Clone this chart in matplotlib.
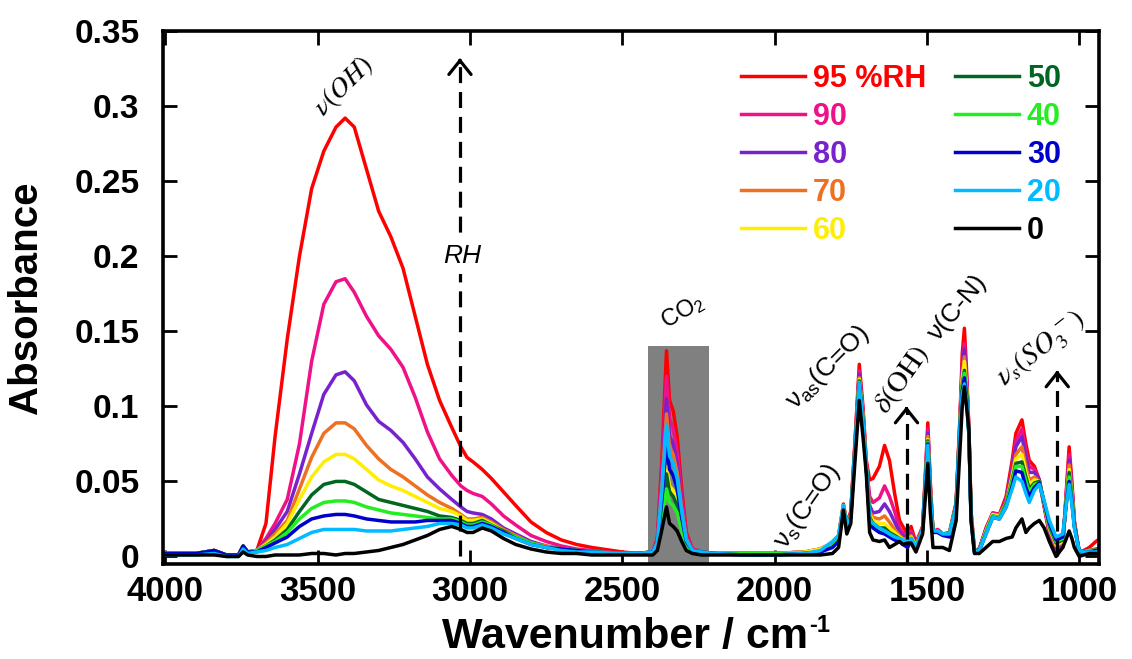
import matplotlib
matplotlib.use('Agg')
import matplotlib.pyplot as plt
import matplotlib.patches as mpatches

plt.rcParams['font.family'] = ['Liberation Sans', 'DejaVu Sans']
plt.rcParams['mathtext.fontset'] = 'custom'
plt.rcParams['mathtext.rm'] = 'Liberation Sans'
plt.rcParams['mathtext.it'] = 'Liberation Sans:italic'
plt.rcParams['mathtext.bf'] = 'Liberation Sans:bold'

# ---------------- data ----------------
wavenumber = [
    4000, 3900, 3840, 3800, 3760, 3745, 3730, 3700, 3670, 3640,
    3600, 3560, 3520, 3480, 3440, 3410, 3380, 3340, 3300, 3260,
    3220, 3180, 3140, 3100, 3060, 3030, 3010, 2990, 2960, 2930,
    2890, 2850, 2800, 2750, 2700, 2650, 2600, 2500,
    2450, 2400, 2385, 2370, 2355, 2345, 2333, 2320, 2305, 2290, 2270, 2240, 2200,
    2100, 2000, 1900, 1850, 1810, 1790, 1774, 1763, 1750, 1738,
    1722, 1710, 1699, 1688, 1677, 1656, 1639, 1623, 1606, 1590,
    1579, 1563, 1552, 1536, 1514, 1505, 1497, 1489, 1480, 1465,
    1448, 1426, 1404, 1392, 1384, 1377, 1370, 1362, 1355, 1344,
    1328, 1306, 1284, 1262, 1240, 1220, 1208, 1188, 1175, 1164,
    1147, 1131, 1115, 1098, 1076, 1054, 1042, 1033, 1024, 1016,
    1000, 985, 967, 945, 930]

rh95 = [
    .002, .002, .004, .001, .001, .007, .003, .004, .022, .080,
    .145, .200, .245, .270, .286, .292, .286, .258, .230, .213,
    .192, .160, .128, .104, .086, .073, .066, .063, .058, .052,
    .043, .034, .023, .016, .011, .008, .006, .003,
    .002, .003, .012, .065, .137, .104, .097, .080, .045, .016, .005, .003, .002,
    .002, .002, .003, .005, .009, .014, .035, .022, .030, .070,
    .128, .100, .064, .051, .052, .060, .074, .064, .042, .024,
    .020, .015, .020, .009, .020, .055, .089, .050, .016, .018,
    .015, .016, .036, .090, .135, .152, .125, .085, .030, .004,
    .005, .019, .029, .028, .040, .064, .082, .091, .075, .064,
    .060, .051, .033, .015, .004, .006, .045, .073, .050, .024,
    .002, .004, .006, .010, .012]

rh90 = [
    .002, .002, .004, .001, .001, .007, .003, .004, .012, .022,
    .038, .075, .130, .168, .183, .185, .176, .160, .147, .138,
    .126, .106, .083, .065, .054, .047, .044, .042, .040, .035,
    .027, .021, .014, .010, .007, .005, .004, .002,
    .002, .003, .011, .058, .120, .092, .085, .070, .040, .014, .005, .003, .002,
    .002, .002, .003, .005, .009, .013, .034, .022, .029, .069,
    .124, .097, .062, .040, .036, .039, .047, .040, .030, .019,
    .016, .013, .017, .008, .019, .053, .085, .048, .016, .018,
    .015, .015, .035, .089, .128, .142, .120, .084, .029, .004,
    .005, .018, .029, .028, .038, .060, .077, .085, .070, .060,
    .058, .051, .034, .016, .005, .007, .043, .068, .047, .023,
    .003, .003, .004, .005, .006]

rh80 = [
    .002, .002, .004, .001, .001, .007, .003, .004, .010, .018,
    .030, .055, .082, .108, .121, .123, .117, .101, .090, .084,
    .076, .065, .053, .045, .038, .033, .030, .029, .028, .025,
    .019, .015, .010, .007, .005, .004, .003, .002,
    .002, .003, .010, .052, .105, .080, .075, .062, .035, .013, .004, .003, .002,
    .002, .002, .003, .004, .008, .013, .034, .021, .028, .068,
    .121, .095, .061, .034, .029, .030, .035, .030, .023, .016,
    .014, .012, .015, .007, .019, .052, .082, .046, .017, .017,
    .015, .015, .035, .088, .124, .138, .117, .083, .028, .004,
    .005, .018, .028, .027, .037, .058, .073, .080, .066, .056,
    .056, .051, .034, .017, .006, .008, .041, .064, .045, .022,
    .003, .003, .004, .004, .004]

rh70 = [
    .002, .002, .004, .001, .001, .007, .003, .004, .009, .015,
    .024, .045, .066, .082, .089, .089, .085, .074, .065, .058,
    .053, .047, .041, .036, .032, .028, .025, .025, .026, .023,
    .018, .014, .009, .007, .005, .004, .003, .002,
    .002, .003, .009, .047, .095, .073, .068, .056, .032, .012, .004, .003, .002,
    .002, .002, .002, .004, .008, .012, .034, .021, .028, .067,
    .119, .094, .060, .030, .026, .025, .027, .023, .018, .014,
    .012, .011, .014, .007, .019, .051, .080, .045, .017, .017,
    .015, .015, .034, .087, .120, .133, .114, .083, .027, .004,
    .004, .017, .028, .027, .036, .055, .068, .073, .060, .051,
    .053, .050, .035, .018, .007, .009, .040, .061, .043, .022,
    .003, .003, .004, .004, .004]

rh60 = [
    .002, .002, .004, .001, .001, .007, .003, .004, .008, .013,
    .022, .038, .053, .063, .068, .068, .065, .058, .051, .047,
    .044, .040, .036, .032, .030, .027, .024, .024, .025, .022,
    .017, .013, .009, .006, .005, .004, .003, .002,
    .002, .003, .007, .031, .060, .047, .044, .037, .022, .009, .004, .003, .002,
    .002, .002, .003, .005, .009, .013, .034, .021, .027, .066,
    .118, .093, .060, .028, .024, .022, .022, .019, .016, .013,
    .011, .010, .013, .007, .018, .050, .078, .044, .017, .017,
    .015, .015, .034, .087, .118, .130, .112, .082, .027, .004,
    .004, .017, .028, .027, .035, .053, .065, .068, .056, .048,
    .051, .050, .035, .019, .008, .010, .039, .058, .041, .021,
    .003, .003, .004, .004, .004]

rh50 = [
    .002, .002, .004, .001, .001, .007, .003, .004, .007, .011,
    .018, .030, .041, .048, .050, .050, .048, .043, .038, .036,
    .034, .032, .030, .027, .026, .024, .022, .022, .024, .021,
    .017, .013, .009, .006, .005, .004, .003, .002,
    .002, .003, .007, .029, .055, .043, .040, .034, .020, .008, .004, .003, .002,
    .002, .002, .002, .003, .007, .011, .033, .020, .027, .066,
    .117, .092, .059, .026, .022, .019, .019, .016, .014, .012,
    .010, .010, .012, .006, .018, .050, .077, .043, .017, .017,
    .015, .015, .034, .086, .114, .124, .110, .082, .026, .004,
    .004, .016, .027, .026, .035, .051, .062, .063, .053, .045,
    .049, .050, .036, .020, .009, .011, .038, .056, .040, .021,
    .003, .003, .004, .004, .004]

rh40 = [
    .002, .002, .004, .001, .001, .007, .003, .004, .007, .010,
    .016, .025, .032, .036, .037, .037, .036, .033, .031, .029,
    .028, .027, .026, .025, .025, .023, .021, .021, .023, .021,
    .016, .013, .009, .006, .005, .004, .003, .002,
    .002, .003, .006, .024, .045, .036, .034, .029, .017, .007, .003, .002, .002,
    .002, .002, .002, .003, .007, .011, .033, .020, .026, .065,
    .116, .091, .059, .025, .021, .018, .017, .015, .013, .011,
    .010, .009, .012, .006, .018, .049, .076, .042, .017, .016,
    .015, .015, .033, .086, .112, .122, .109, .081, .026, .004,
    .004, .016, .027, .026, .034, .050, .060, .060, .050, .043,
    .048, .049, .036, .021, .010, .012, .037, .053, .038, .020,
    .004, .003, .004, .004, .004]

rh30 = [
    .002, .002, .004, .001, .001, .007, .003, .003, .006, .009,
    .013, .020, .025, .027, .028, .028, .027, .025, .024, .023,
    .023, .023, .024, .024, .024, .022, .020, .020, .022, .020,
    .016, .012, .008, .006, .005, .004, .003, .002,
    .002, .003, .008, .038, .075, .058, .054, .045, .026, .010, .004, .003, .002,
    .001, .001, .002, .003, .006, .010, .032, .019, .026, .065,
    .115, .090, .058, .023, .019, .016, .015, .013, .011, .010,
    .008, .006, .011, .005, .018, .048, .075, .041, .016, .016,
    .014, .013, .033, .085, .110, .119, .107, .081, .025, .003,
    .004, .015, .026, .025, .033, .047, .057, .056, .046, .040,
    .046, .049, .036, .022, .011, .013, .036, .050, .036, .020,
    .004, .003, .003, .004, .004]

rh20 = [
    .001, .001, .002, .000, .000, .005, .002, .003, .004, .006,
    .008, .012, .016, .018, .018, .018, .018, .017, .017, .017,
    .018, .019, .020, .022, .022, .021, .019, .019, .021, .019,
    .015, .012, .008, .006, .004, .003, .003, .002,
    .002, .003, .009, .044, .088, .067, .062, .052, .030, .011, .004, .003, .002,
    .001, .001, .002, .004, .010, .014, .034, .020, .026, .065,
    .115, .090, .060, .024, .022, .019, .017, .015, .013, .012,
    .011, .010, .012, .006, .018, .048, .074, .040, .017, .017,
    .015, .015, .033, .085, .108, .115, .105, .080, .024, .003,
    .004, .015, .026, .025, .033, .045, .053, .050, .042, .036,
    .044, .048, .037, .024, .013, .015, .035, .048, .035, .019,
    .004, .003, .003, .003, .004]

rh0 = [
    .001, .001, .001, .000, .000, .003, .001, .000, .000, .001,
    .001, .001, .002, .002, .001, .002, .002, .003, .004, .006,
    .008, .011, .014, .018, .020, .018, .016, .016, .019, .017,
    .012, .008, .005, .003, .002, .002, .001, .001,
    .001, .001, .004, .018, .033, .022, .020, .017, .010, .004, .002, .001, .001,
    .001, .001, .001, .001, .002, .006, .031, .015, .022, .058,
    .104, .080, .055, .016, .011, .010, .011, .006, .008, .010,
    .008, .009, .009, .003, .015, .040, .062, .030, .006, .006,
    .006, .004, .024, .069, .100, .113, .100, .084, .024, .002,
    .002, .006, .010, .010, .012, .013, .019, .025, .016, .019,
    .022, .024, .019, .010, .000, .006, .012, .017, .012, .006,
    .000, .001, .002, .002, .002]

series = [rh95, rh90, rh80, rh70, rh60, rh50, rh40, rh30, rh20, rh0]
labels = ['95 %RH', '90', '80', '70', '60', '50', '40', '30', '20', '0']
colors = ['#ff0000', '#ee1188', '#7722cc', '#ee7020', '#ffee00',
          '#006622', '#22ee22', '#0000cc', '#00bbff', '#000000']

x_ticks = [4000, 3500, 3000, 2500, 2000, 1500, 1000]
y_ticks = [0, 0.05, 0.1, 0.15, 0.2, 0.25, 0.3, 0.35]
y_tick_labels = ['0', '0.05', '0.1', '0.15', '0.2', '0.25', '0.3', '0.35']

# CO2 shaded band (wavenumber range, top absorbance)
co2_band = (2215, 2415, 0.140)
# dashed arrows: (wavenumber, start, tip)
arrows = [(3033, 0.0, 0.332), (1567, -0.005, 0.100), (1072, 0.0, 0.124)]

# ---------------- plot ----------------
fig = plt.figure(figsize=(11.32, 6.59), dpi=100)
ax = fig.add_axes([163 / 1132, 1 - 564 / 659, 936 / 1132, 533 / 659])

ax.add_patch(mpatches.Rectangle((co2_band[0], -0.005), co2_band[1] - co2_band[0],
                                co2_band[2] + 0.005, facecolor='#808080',
                                edgecolor='none', zorder=1))

for vals, lab, c in zip(series, labels, colors):
    ax.plot(wavenumber, vals, color=c, lw=2.5, label=lab, zorder=2,
            solid_joinstyle='round')

for x, y0, y1 in arrows:
    ax.plot([x, x], [y0, y1 - 0.002], color='black', lw=2.3,
            linestyle=(0, (5.0, 2.8)), zorder=3)
    ax.annotate('', xy=(x, y1), xytext=(x, y1 - 0.003),
                arrowprops=dict(arrowstyle='->,head_length=0.5,head_width=0.4',
                                lw=2.3, color='black', mutation_scale=20,
                                shrinkA=0, shrinkB=0), zorder=4)

# annotations
ax.text(3416, 0.313, r'$\nu(OH)$', rotation=45, ha='center', va='center',
        fontsize=20, math_fontfamily='stix')
ax.text(3026, 0.200, 'RH', style='italic', fontsize=19, ha='center', va='center',
        zorder=5, bbox=dict(facecolor='white', edgecolor='none', pad=4))
ax.text(2302, 0.163, 'CO$_2$', rotation=30, ha='center', va='center', fontsize=17)
ax.text(1892, 0.033, r'ν$_\mathrm{s}$(C=O)', rotation=55, ha='center', va='center',
        fontsize=19)
ax.text(1826, 0.126, r'ν$_\mathrm{as}$(C=O)', rotation=45, ha='center', va='center',
        fontsize=19)
ax.text(1582, 0.118, r'$\delta(\mathrm{OH})$', rotation=55, ha='center', va='center',
        fontsize=21, math_fontfamily='stix')
ax.text(1400, 0.166, 'ν(C-N)', rotation=50, ha='center', va='center', fontsize=19)
ax.text(1124, 0.138, r'$\nu_s(SO_3^{\,-})$', rotation=38, ha='center', va='center',
        fontsize=21, math_fontfamily='stix')

# axes
ax.set_xlim(4008, 935)
ax.set_ylim(-0.005, 0.35)
ax.set_xticks(x_ticks)
ax.set_xticklabels([str(t) for t in x_ticks], fontweight='bold', fontsize=25)
ax.set_yticks(y_ticks)
ax.set_yticklabels(y_tick_labels, fontweight='bold', fontsize=24)
ax.tick_params(direction='in', top=True, right=True, length=10, width=2)
ax.tick_params(axis='y', pad=17)
ax.tick_params(axis='x', pad=8)
for s in ax.spines.values():
    s.set_linewidth(2.6)

ax.set_ylabel('Absorbance', fontsize=29, fontweight='bold')
ax.yaxis.set_label_coords(-0.126, 0.5)

# x label with a small "-1" superscript placed after the main text
xlab = fig.text(625 / 1132, 1 - 637 / 659, 'Wavenumber / cm', fontsize=31,
                fontweight='bold', ha='center', va='center')
fig.canvas.draw()
bb = xlab.get_window_extent()
fig.text((bb.x1 + 1) / 1132, (bb.y1 + 3) / 659, '-1', fontsize=17,
         fontweight='bold', ha='left', va='top')

ax.legend(ncol=2, loc='upper left', bbox_to_anchor=(741 / 1132, 1 - 64 / 659),
          bbox_transform=fig.transFigure, frameon=False, borderpad=0,
          borderaxespad=0, handlelength=2.1, handletextpad=0.25,
          columnspacing=0.95, labelspacing=0.26,
          prop={'weight': 'bold', 'size': 22}, labelcolor='linecolor')

fig.savefig('out.png', dpi=100)
